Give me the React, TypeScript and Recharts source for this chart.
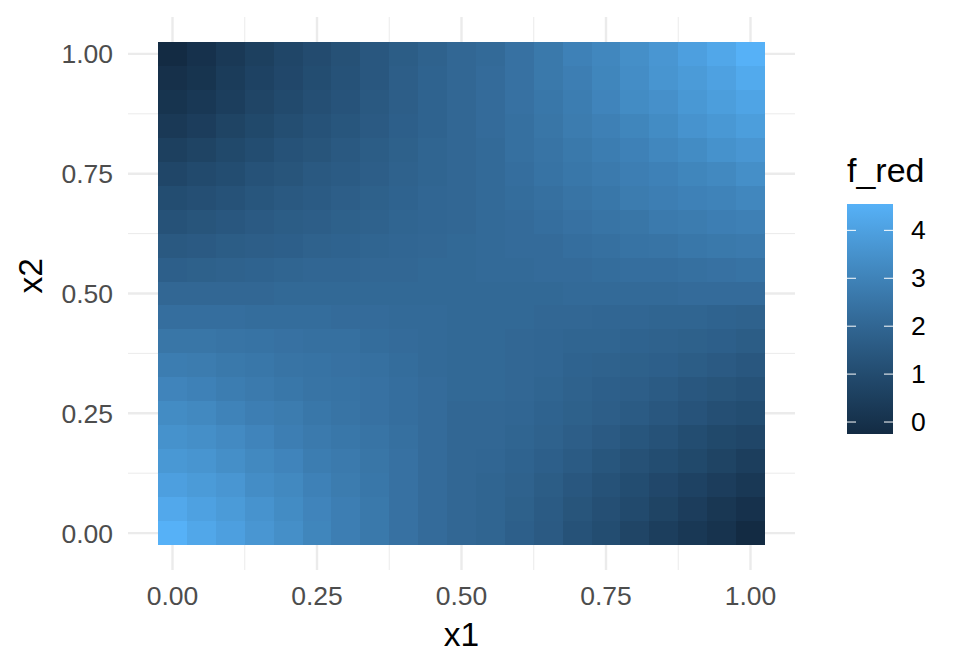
import { ScatterChart, Scatter, XAxis, YAxis, CartesianGrid } from "recharts";

const x1Values = [0, 0.05, 0.1, 0.15, 0.2, 0.25, 0.3, 0.35, 0.4, 0.45, 0.5, 0.55, 0.6, 0.65, 0.7, 0.75, 0.8, 0.85, 0.9, 0.95, 1];
// top row first (x2 = 1) down to x2 = 0
const x2Values = [1, 0.95, 0.9, 0.85, 0.8, 0.75, 0.7, 0.65, 0.6, 0.55, 0.5, 0.45, 0.4, 0.35, 0.3, 0.25, 0.2, 0.15, 0.1, 0.05, 0];
const fRed = [
  [-0.25, 0.0, 0.3, 0.55, 0.8, 1.0, 1.2, 1.45, 1.65, 1.85, 2.05, 2.15, 2.4, 2.65, 2.95, 3.15, 3.4, 3.65, 3.95, 4.2, 4.55],
  [-0.05, 0.1, 0.4, 0.65, 0.85, 1.05, 1.25, 1.45, 1.7, 1.9, 2.05, 2.2, 2.4, 2.65, 2.85, 3.1, 3.35, 3.6, 3.8, 4.0, 4.3],
  [0.1, 0.25, 0.5, 0.75, 0.95, 1.15, 1.3, 1.5, 1.7, 1.9, 2.05, 2.2, 2.4, 2.6, 2.8, 3.05, 3.3, 3.45, 3.7, 3.9, 4.1],
  [0.3, 0.45, 0.7, 0.9, 1.1, 1.25, 1.4, 1.55, 1.75, 1.9, 2.05, 2.2, 2.35, 2.55, 2.75, 2.9, 3.1, 3.3, 3.55, 3.7, 3.9],
  [0.55, 0.7, 0.9, 1.05, 1.25, 1.35, 1.5, 1.65, 1.8, 1.95, 2.05, 2.15, 2.35, 2.5, 2.65, 2.8, 2.95, 3.15, 3.3, 3.5, 3.65],
  [0.8, 0.95, 1.05, 1.25, 1.35, 1.5, 1.6, 1.7, 1.85, 1.95, 2.05, 2.15, 2.3, 2.45, 2.6, 2.7, 2.85, 2.95, 3.1, 3.2, 3.4],
  [1.05, 1.15, 1.25, 1.4, 1.5, 1.6, 1.7, 1.8, 1.9, 2.0, 2.05, 2.15, 2.25, 2.35, 2.5, 2.6, 2.75, 2.85, 2.95, 3.0, 3.15],
  [1.25, 1.35, 1.45, 1.55, 1.65, 1.7, 1.8, 1.85, 1.95, 2.0, 2.05, 2.15, 2.2, 2.3, 2.4, 2.5, 2.55, 2.7, 2.75, 2.85, 2.9],
  [1.5, 1.55, 1.65, 1.7, 1.75, 1.85, 1.9, 1.95, 2.0, 2.05, 2.1, 2.15, 2.2, 2.2, 2.3, 2.35, 2.45, 2.5, 2.6, 2.65, 2.7],
  [1.75, 1.8, 1.85, 1.9, 1.95, 2.0, 2.0, 2.05, 2.05, 2.1, 2.1, 2.15, 2.15, 2.2, 2.2, 2.25, 2.3, 2.3, 2.35, 2.4, 2.45],
  [2.05, 2.05, 2.05, 2.05, 2.1, 2.1, 2.1, 2.1, 2.1, 2.1, 2.1, 2.1, 2.1, 2.1, 2.15, 2.15, 2.15, 2.15, 2.2, 2.2, 2.2],
  [2.3, 2.3, 2.3, 2.25, 2.25, 2.25, 2.2, 2.2, 2.15, 2.15, 2.1, 2.1, 2.1, 2.05, 2.05, 2.0, 2.0, 1.95, 1.95, 1.9, 1.85],
  [2.55, 2.55, 2.5, 2.45, 2.4, 2.35, 2.35, 2.25, 2.2, 2.15, 2.1, 2.1, 2.05, 2.0, 1.95, 1.95, 1.9, 1.85, 1.8, 1.75, 1.65],
  [2.8, 2.75, 2.65, 2.6, 2.5, 2.45, 2.4, 2.35, 2.25, 2.15, 2.1, 2.1, 2.05, 2.0, 1.9, 1.85, 1.8, 1.75, 1.65, 1.55, 1.45],
  [3.05, 2.95, 2.8, 2.7, 2.6, 2.5, 2.45, 2.4, 2.3, 2.2, 2.1, 2.1, 2.05, 1.95, 1.85, 1.75, 1.7, 1.6, 1.45, 1.35, 1.25],
  [3.3, 3.2, 3.0, 2.85, 2.75, 2.6, 2.5, 2.4, 2.3, 2.2, 2.05, 2.05, 2.0, 1.9, 1.8, 1.7, 1.6, 1.45, 1.3, 1.15, 1.05],
  [3.5, 3.4, 3.25, 3.05, 2.85, 2.7, 2.6, 2.5, 2.35, 2.2, 2.05, 2.05, 1.95, 1.85, 1.7, 1.55, 1.4, 1.25, 1.05, 0.9, 0.8],
  [3.7, 3.6, 3.4, 3.2, 3.05, 2.8, 2.7, 2.55, 2.4, 2.2, 2.05, 2.0, 1.9, 1.75, 1.6, 1.4, 1.2, 1.05, 0.9, 0.7, 0.5],
  [3.95, 3.8, 3.65, 3.35, 3.2, 2.95, 2.75, 2.6, 2.4, 2.2, 2.05, 1.95, 1.85, 1.65, 1.45, 1.25, 1.05, 0.85, 0.65, 0.45, 0.25],
  [4.25, 4.0, 3.8, 3.55, 3.3, 3.05, 2.85, 2.65, 2.4, 2.2, 2.05, 1.95, 1.8, 1.6, 1.35, 1.15, 0.95, 0.7, 0.45, 0.2, 0.0],
  [4.55, 4.2, 3.95, 3.65, 3.4, 3.1, 2.85, 2.65, 2.4, 2.2, 2.05, 1.95, 1.75, 1.55, 1.25, 1.05, 0.75, 0.5, 0.25, 0.05, -0.25],
];
const axisTicks = [0, 0.25, 0.5, 0.75, 1];
const minorTicks = [0.125, 0.375, 0.625, 0.875];
const legendTicks = [0, 1, 2, 3, 4];

const FONT = "'Liberation Sans', Arial, sans-serif";
const V_MIN = -0.25;
const V_MAX = 4.55;
const DOMAIN: [number, number] = [-0.077, 1.077];
const CELL_W = 28.9;
const CELL_H = 23.95;

const rampStops = ["#132B43", "#224A6D", "#336A98", "#448DC6", "#56B1F7"];

const hexToRgb = (h: string) => [1, 3, 5].map((i) => parseInt(h.slice(i, i + 2), 16));

const colorFor = (v: number) => {
  const t = Math.min(1, Math.max(0, (v - V_MIN) / (V_MAX - V_MIN))) * (rampStops.length - 1);
  const i = Math.min(Math.floor(t), rampStops.length - 2);
  const a = hexToRgb(rampStops[i]);
  const b = hexToRgb(rampStops[i + 1]);
  const c = a.map((ch, k) => Math.round(ch + (b[k] - ch) * (t - i)));
  return `rgb(${c.join(",")})`;
};

const tiles = x2Values.flatMap((x2, r) =>
  x1Values.map((x1, c) => ({ x1, x2, f_red: fRed[r][c] }))
);

const Tile = ({ cx, cy, payload }: any) => (
  <rect
    x={cx - CELL_W / 2}
    y={cy - CELL_H / 2}
    width={CELL_W}
    height={CELL_H}
    fill={colorFor(payload.f_red)}
    shapeRendering="crispEdges"
  />
);

const tickStyle = { fill: "#4D4D4D", fontSize: 26.5, fontFamily: FONT };

const BAR_TOP = 204;
const BAR_BOTTOM = 434;
const legendY = (v: number) =>
  BAR_BOTTOM - ((v - V_MIN) / (V_MAX - V_MIN)) * (BAR_BOTTOM - BAR_TOP);

function ColorLegend() {
  return (
    <svg width={960} height={672} style={{ position: "absolute", left: 0, top: 0, pointerEvents: "none" }}>
      <defs>
        <linearGradient id="rampGrad" x1="0" y1="1" x2="0" y2="0">
          {rampStops.map((s, i) => (
            <stop key={s} offset={i / (rampStops.length - 1)} stopColor={s} />
          ))}
        </linearGradient>
      </defs>
      <text x={847} y={182} fontSize={34} fontFamily={FONT} fill="#000">f_red</text>
      <rect x={847} y={BAR_TOP} width={46} height={BAR_BOTTOM - BAR_TOP} fill="url(#rampGrad)" />
      {legendTicks.map((v) => (
        <g key={v}>
          <line x1={847} x2={856} y1={legendY(v)} y2={legendY(v)} stroke="#fff" strokeWidth={1} />
          <line x1={884} x2={893} y1={legendY(v)} y2={legendY(v)} stroke="#fff" strokeWidth={1} />
          <text x={911} y={legendY(v)} dy="0.34em" fontSize={26.5} fontFamily={FONT} fill="#000">{v}</text>
        </g>
      ))}
    </svg>
  );
}

export default function App() {
  return (
    <div style={{ position: "absolute", left: 0, top: 0, width: 960, height: 672, background: "#fff" }}>
      <ScatterChart width={960} height={672} margin={{ top: 17, right: 165, bottom: 0, left: 0 }}>
        <CartesianGrid stroke="#EBEBEB" strokeWidth={1} verticalValues={minorTicks} horizontalValues={minorTicks} />
        <CartesianGrid stroke="#EBEBEB" strokeWidth={2.4} verticalValues={axisTicks} horizontalValues={axisTicks} />
        <XAxis
          type="number"
          dataKey="x1"
          domain={DOMAIN}
          ticks={axisTicks}
          height={102}
          interval={0}
          axisLine={false}
          tickLine={false}
          tickMargin={10}
          tick={tickStyle}
          tickFormatter={(v: number) => v.toFixed(2)}
          label={{ value: "x1", position: "insideBottom", offset: 26, fontSize: 33.5, fontFamily: FONT, fill: "#000" }}
        />
        <YAxis
          type="number"
          dataKey="x2"
          domain={DOMAIN}
          ticks={axisTicks}
          width={128}
          interval={0}
          axisLine={false}
          tickLine={false}
          tickMargin={9}
          tick={tickStyle}
          tickFormatter={(v: number) => v.toFixed(2)}
          label={{ value: "x2", angle: -90, position: "insideLeft", offset: 30, fontSize: 33.5, fontFamily: FONT, fill: "#000" }}
        />
        <Scatter data={tiles} shape={Tile} isAnimationActive={false} />
      </ScatterChart>
      <ColorLegend />
    </div>
  );
}
